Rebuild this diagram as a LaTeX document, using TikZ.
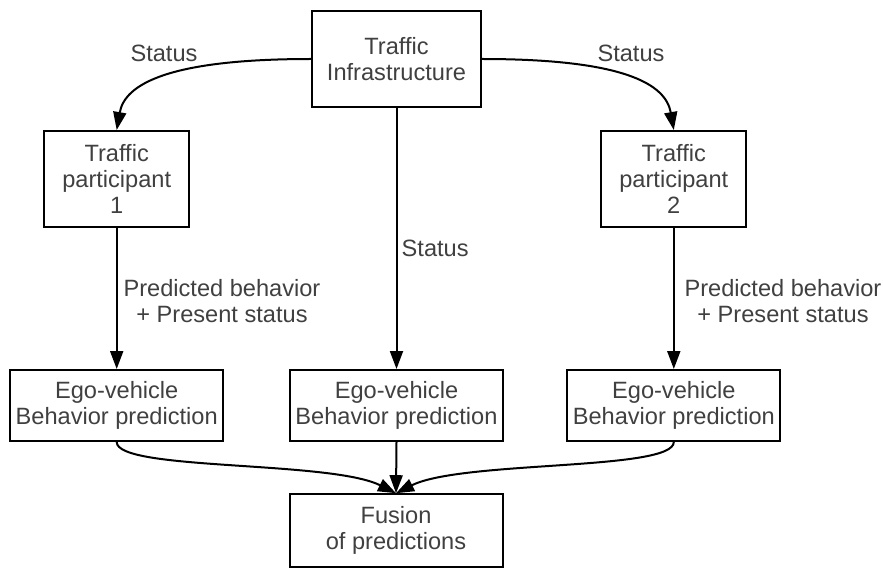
\documentclass[tikz,border=0pt]{standalone}
\usepackage{fontspec}
\setmainfont{Liberation Sans}
\usetikzlibrary{arrows.meta}
\definecolor{txt}{RGB}{64,64,64}
\begin{document}
\begin{tikzpicture}[x=1bp,y=-1bp,
  lbl/.style={text=txt, align=center, inner sep=0pt,
    font=\fontsize{23.6bp}{26bp}\selectfont},
  box/.style={lbl, draw=black, line width=2bp},
  infrabox/.style={box, minimum width=169bp, minimum height=96bp},
  partbox/.style={box, minimum width=145bp, minimum height=96bp},
  egobox/.style={box, minimum width=213bp, minimum height=71bp},
  conn/.style={line width=2bp, -{Triangle[length=18bp,width=13bp]}}]
\useasboundingbox (0,0) rectangle (883,568);

% boxes
\node[infrabox] (infra) at (396.5,59) {Traffic\\Infrastructure};
\node[partbox] (p1) at (116.7,179) {Traffic\\participant\\1};
\node[partbox] (p2) at (673.8,179) {Traffic\\participant\\2};
\node[egobox] (e1) at (116.7,405.5) {Ego-vehicle\\Behavior prediction};
\node[egobox] (e2) at (396.5,405.5) {Ego-vehicle\\Behavior prediction};
\node[egobox] (e3) at (673.8,405.5) {Ego-vehicle\\Behavior prediction};
\node[egobox, minimum height=73bp] (fus) at (396,530.7) {Fusion\\of predictions};

% status from the infrastructure
\draw[conn] (infra.west) .. controls +(-142,0) and +(8,-46) .. (p1.north);
\draw[conn] (infra.east) .. controls +(142,0) and +(-8,-46) .. (p2.north);
\draw[conn] (infra.south) -- (e2.north);
\draw[conn] (p1.south) -- (e1.north);
\draw[conn] (p2.south) -- (e3.north);

% fusion of the three predictions
\draw[conn] (e1.south) .. controls +(0,29) and +(-66,-33) .. (fus.north);
\draw[conn] (e3.south) .. controls +(0,29) and +(66,-33) .. (fus.north);
\draw[conn] (e2.south) -- (fus.north);

% labels
\node[lbl] (s1) at (164,53) {Status};
\node[lbl] (s2) at (631,53) {Status};
\node[lbl, anchor=west] (s3) at (401.5,248) {Status};
\node[lbl] (pb1) at (222,301) {Predicted behavior\\+ Present status};
\node[lbl] (pb2) at (783,301) {Predicted behavior\\+ Present status};
\end{tikzpicture}
\end{document}
